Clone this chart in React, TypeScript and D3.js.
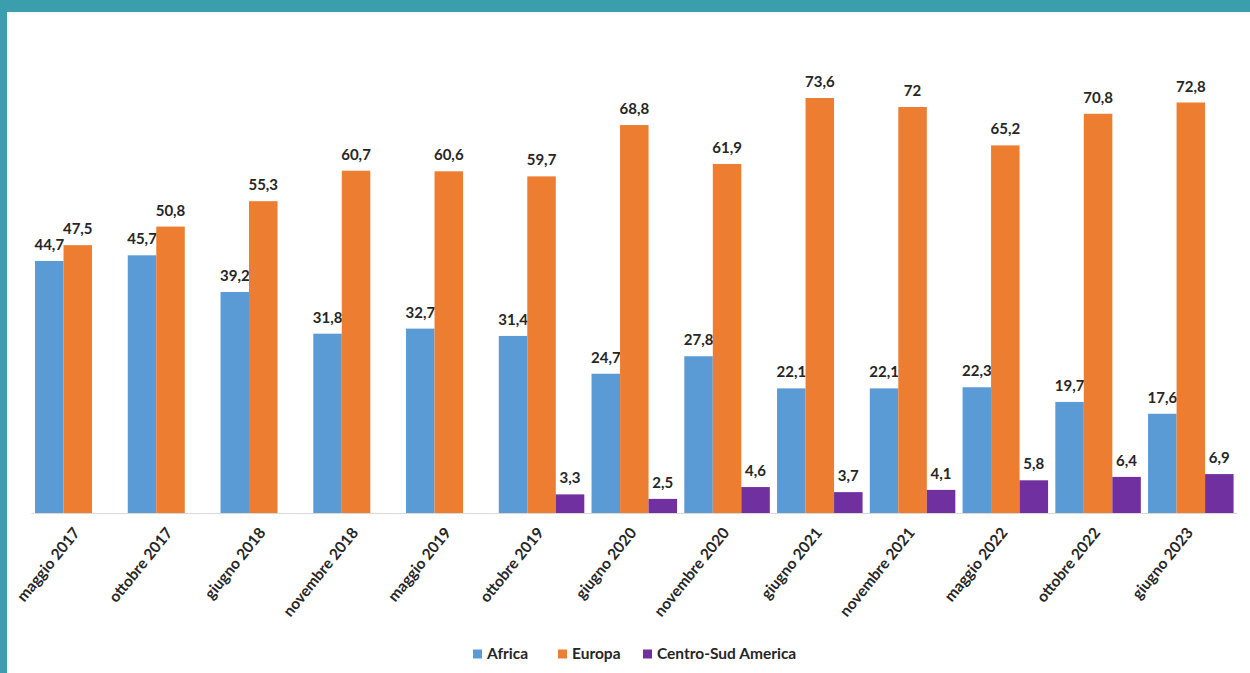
import React from "react";
import * as d3 from "d3";

const categories = [
  "maggio 2017", "ottobre 2017", "giugno 2018", "novembre 2018", "maggio 2019",
  "ottobre 2019", "giugno 2020", "novembre 2020", "giugno 2021", "novembre 2021",
  "maggio 2022", "ottobre 2022", "giugno 2023",
];
const seriesNames = ["Africa", "Europa", "Centro-Sud America"];
const africa = [44.7, 45.7, 39.2, 31.8, 32.7, 31.4, 24.7, 27.8, 22.1, 22.1, 22.3, 19.7, 17.6];
const europa = [47.5, 50.8, 55.3, 60.7, 60.6, 59.7, 68.8, 61.9, 73.6, 72, 65.2, 70.8, 72.8];
const centroSud: (number | null)[] = [null, null, null, null, null, 3.3, 2.5, 4.6, 3.7, 4.1, 5.8, 6.4, 6.9];
const colors = ["#5B9BD5", "#ED7D31", "#7030A0"];

const W = 1250;
const H = 673;
const FONT = "Lato, 'Open Sans', sans-serif";

const fmt = (v: number) => String(v).replace(".", ",");

export default function App() {
  const seriesValues = [africa, europa, centroSud];
  const x = d3.scaleBand<string>().domain(categories).range([31.4, 1237.2]).paddingInner(0.078).paddingOuter(0.039);
  const xs = d3.scaleBand<string>().domain(seriesNames).range([0, x.bandwidth()]).padding(0);
  const y = d3.scaleLinear().domain([0, 73.6]).range([513, 98]);

  const legendX = [473, 558, 643];

  return (
    <svg width={W} height={H} style={{ position: "absolute", left: 0, top: 0, background: "#fff" }} fontFamily={FONT}>
      <rect x={0} y={0} width={W} height={H} fill="#fff" />
      <rect x={0} y={0} width={W} height={12} fill="#3A9EAD" />
      <rect x={0} y={0} width={7} height={H} fill="#3A9EAD" />
      <line x1={7.5} y1={13} x2={W} y2={13} stroke="#eeeeee" />
      <line x1={8} y1={13} x2={8} y2={H} stroke="#eeeeee" />

      {categories.map((c, i) => (
        <g key={c} transform={`translate(${x(c)},0)`}>
          {seriesNames.map((s, j) => {
            const v = seriesValues[j][i];
            if (v == null) return null;
            const bx = xs(s)!;
            const bw = xs.bandwidth();
            return (
              <g key={s}>
                <rect x={bx} y={y(v)} width={bw} height={y(0) - y(v)} fill={colors[j]} />
                <text
                  x={bx + bw / 2}
                  y={y(v) - 11}
                  textAnchor="middle"
                  fontSize={15}
                  fontWeight="bold"
                  fill="#262626"
                >
                  {fmt(v)}
                </text>
              </g>
            );
          })}
        </g>
      ))}

      <line x1={31.4} x2={1237.2} y1={513.5} y2={513.5} stroke="#d9d9d9" strokeWidth={1} />

      {categories.map((c) => {
        const cx = x(c)! + x.bandwidth() / 2;
        return (
          <text
            key={c}
            transform={`translate(${cx + 3},${533}) rotate(-51)`}
            textAnchor="end"
            fontSize={15.5}
            fontWeight="bold"
            fill="#262626"
          >
            {c}
          </text>
        );
      })}

      {seriesNames.map((s, j) => (
        <g key={s} transform={`translate(${legendX[j]},654)`}>
          <rect x={0} y={-4.5} width={9} height={9} fill={colors[j]} />
          <text x={14} y={0} dy="0.35em" fontSize={15.5} fontWeight="bold" fill="#262626">
            {s}
          </text>
        </g>
      ))}
    </svg>
  );
}
